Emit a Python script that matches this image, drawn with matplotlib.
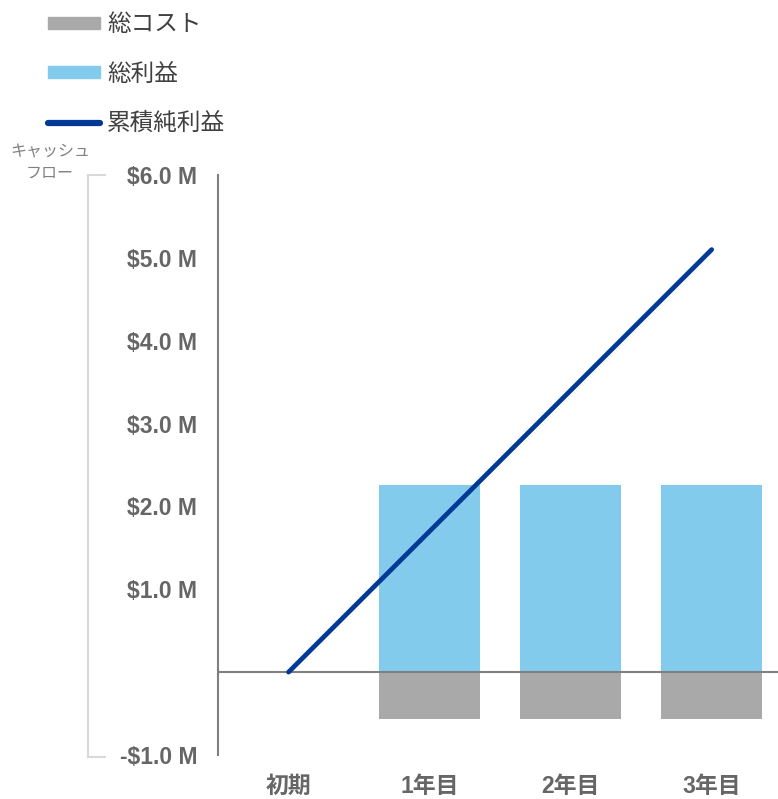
import matplotlib.pyplot as plt
import numpy as np
from matplotlib.lines import Line2D
from matplotlib.patches import Patch

plt.rcParams['font.family'] = ['Liberation Sans', 'Noto Sans CJK JP', 'DejaVu Sans']

categories = ['初期', '1年目', '2年目', '3年目']
total_cost = [0.0, -0.57, -0.57, -0.57]
total_profit = [0.0, 2.26, 2.26, 2.26]
cumulative_net = [0.0, 1.70, 3.40, 5.10]
y_ticks = [-1, 0, 1, 2, 3, 4, 5, 6]
y_tick_labels = ['-$1.0 M', '', '$1.0 M', '$2.0 M', '$3.0 M', '$4.0 M', '$5.0 M', '$6.0 M']

gray = '#a9a9a9'
sky = '#82cbec'
navy = '#003a96'
text_gray = '#666666'

fig = plt.figure(figsize=(7.78, 7.99), dpi=100)
ax = fig.add_axes([218 / 778, 1 - 755 / 799, 1 - 218 / 778, (755 - 175) / 799])

x = np.arange(len(categories))
ax.bar(x[1:], total_profit[1:], width=0.72, color=sky, zorder=2)
ax.bar(x[1:], total_cost[1:], width=0.72, color=gray, zorder=2)
ax.axhline(0, color='#808080', lw=1.5, zorder=3)
ax.plot(x, cumulative_net, color=navy, lw=3.4, solid_capstyle='round', zorder=4)

ax.set_xlim(-0.5, 3.47)
ax.set_ylim(-1, 6)
ax.set_yticks(y_ticks)
ax.set_yticklabels(y_tick_labels)
ax.set_xticks(x)
ax.set_xticklabels(categories)
ax.tick_params(length=0, labelsize=16.5, labelcolor=text_gray)
ax.tick_params(axis='y', pad=15)
ax.tick_params(axis='x', pad=14.5)
for lab in ax.get_xticklabels() + ax.get_yticklabels():
    lab.set_fontweight('bold')

for s in ['top', 'right', 'bottom']:
    ax.spines[s].set_visible(False)
ax.spines['left'].set_color('#808080')
ax.spines['left'].set_linewidth(1.5)

# bracket on the far left
bx = 88 / 778
bt = 1 - 175 / 799
bb = 1 - 757 / 799
bracket = '#d9d9d9'
fig.add_artist(Line2D([bx, bx], [bb, bt], color=bracket, lw=1.5))
fig.add_artist(Line2D([bx, 105 / 778], [bt, bt], color=bracket, lw=1.5))
fig.add_artist(Line2D([bx, 105 / 778], [bb, bb], color=bracket, lw=1.5))
fig.text(50 / 778, 1 - 163 / 799, 'キャッシュ\nフロー', ha='center', va='center',
         fontsize=11.5, color='#808080', linespacing=1.3, family=['Noto Sans CJK JP'])

handles = [
    Patch(color=gray, label='総コスト'),
    Patch(color=sky, label='総利益'),
    Line2D([], [], color=navy, lw=4.5, solid_capstyle='round', label='累積純利益'),
]
fig.legend(handles=handles, loc='upper left', bbox_to_anchor=(27 / 778, 1 + 7 / 799),
           frameon=False, fontsize=17, handlelength=2.2, handleheight=0.4,
           handletextpad=0.3, labelspacing=1.16, labelcolor='#404040')

fig.savefig('out.png', dpi=100)
